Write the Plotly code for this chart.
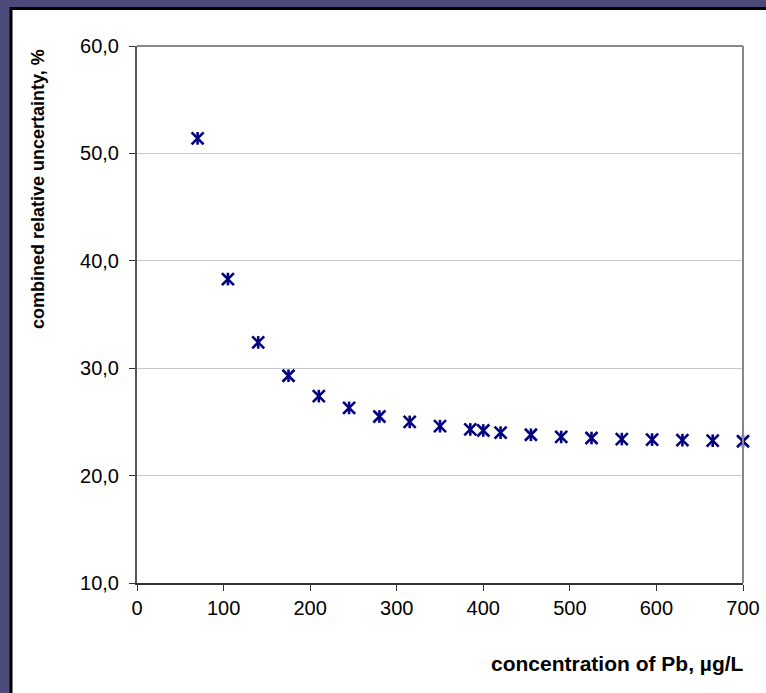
import plotly.graph_objects as go

# data
conc = [70, 105, 140, 175, 210, 245, 280, 315, 350, 385, 400, 420, 455, 490, 525, 560, 595, 630, 665, 700]
unc = [51.4, 38.3, 32.4, 29.3, 27.4, 26.3, 25.5, 25.0, 24.6, 24.3, 24.2, 24.0, 23.8, 23.6, 23.5, 23.4, 23.35, 23.3, 23.25, 23.2]
x_ticks = [0, 100, 200, 300, 400, 500, 600, 700]
y_ticks = [10, 20, 30, 40, 50, 60]

W, H = 766, 693
L, R, T, B = 137, 23, 46, 110
pw, ph = W - L - R, H - T - B

def px(x):
    return (x - L) / pw

def py(y):
    return (H - B - y) / ph

navy = "#000080"
fig = go.Figure()
fig.add_trace(go.Scatter(x=conc, y=unc, mode="markers", cliponaxis=False,
                         marker=dict(symbol="x-thin-open", size=12, color=navy,
                                     line=dict(width=2.6, color=navy)),
                         hoverinfo="x+y"))
fig.add_trace(go.Scatter(x=conc, y=unc, mode="markers", cliponaxis=False,
                         marker=dict(symbol="line-ns-open", size=9, color=navy,
                                     line=dict(width=2.6, color=navy)),
                         hoverinfo="skip"))

font = "Liberation Sans, Arial, sans-serif"
fig.update_layout(
    width=W, height=H,
    margin=dict(l=L, r=R, t=T, b=B),
    paper_bgcolor="#4b4a7b",
    plot_bgcolor="white",
    showlegend=False,
    separators=", ",
    font=dict(family=font, size=20, color="black"),
    xaxis=dict(range=[0, 700], tickvals=x_ticks, ticks="outside", ticklen=6,
               tickcolor="#333", showgrid=False, zeroline=False, automargin=False,
               showline=True, linecolor="#333", linewidth=1.5,
               tickfont=dict(size=20)),
    yaxis=dict(range=[10, 60], tickvals=y_ticks, tickformat=".1f", ticks="outside",
               ticklen=6, tickcolor="#333", showgrid=True, gridcolor="#c8c8c8",
               gridwidth=1, zeroline=False, showline=True, linecolor="#555",
               linewidth=2, tickfont=dict(size=20), automargin=False,
               ticklabelstandoff=6),
    shapes=[
        dict(type="rect", xref="paper", yref="paper", layer="below",
             x0=px(11), x1=px(780), y0=py(710), y1=py(8.5),
             fillcolor="white", line=dict(color="black", width=3)),
        dict(type="line", xref="paper", yref="paper", x0=0, x1=1, y0=1, y1=1,
             line=dict(color="#888", width=2)),
        dict(type="line", xref="paper", yref="paper", x0=1, x1=1, y0=0, y1=1,
             line=dict(color="#888", width=2)),
    ],
    annotations=[
        dict(text="<b>combined relative uncertainty, %</b>", xref="paper", yref="paper",
             x=px(38), y=py(189), textangle=-90, showarrow=False,
             font=dict(size=18), xanchor="center", yanchor="middle"),
        dict(text="<b>concentration of Pb, µg/L</b>", xref="paper", yref="paper",
             x=px(617), y=py(663), showarrow=False,
             font=dict(size=21), xanchor="center", yanchor="middle"),
    ],
)

fig.write_html("out.html", config={"displayModeBar": False},
               post_script="document.body.style.margin='0';")
